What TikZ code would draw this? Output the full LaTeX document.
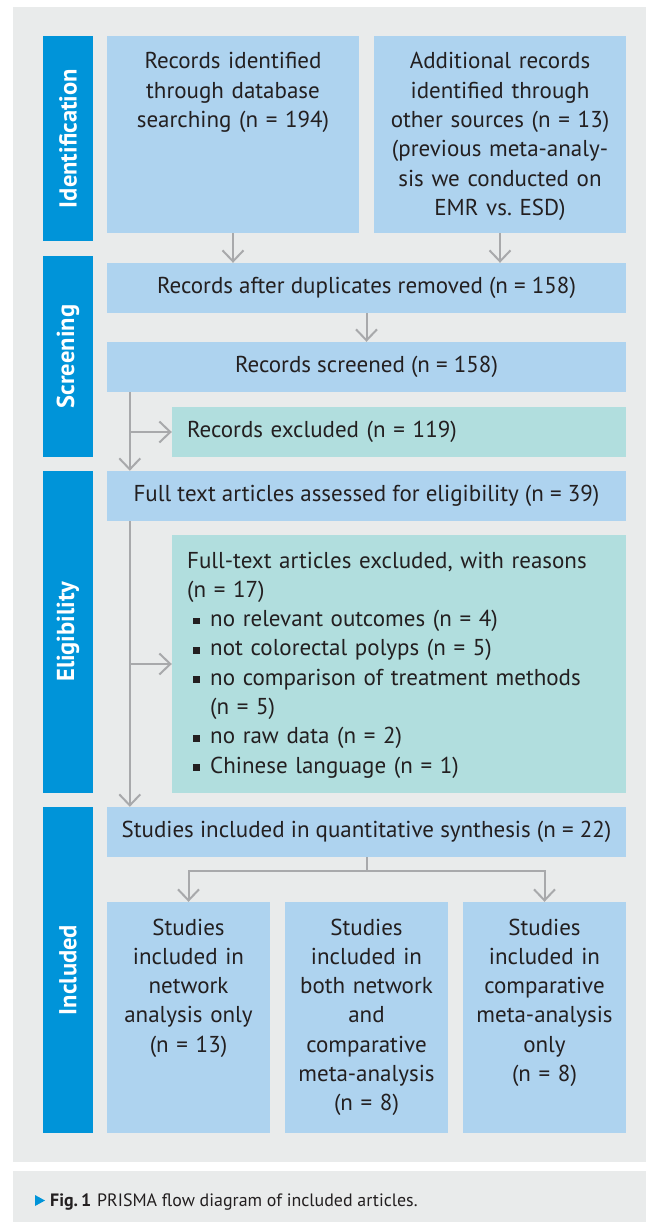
\documentclass[tikz,border=0pt]{standalone}
\usepackage{fontspec}
\setmainfont{PT Sans}
\usepackage{tikz}
\usetikzlibrary{arrows.meta,positioning}
\definecolor{pnlgray}{RGB}{233,235,235}
\definecolor{barblue}{RGB}{0,148,217}
\definecolor{boxblue}{RGB}{174,211,239}
\definecolor{boxteal}{RGB}{177,222,222}
\definecolor{linegray}{RGB}{168,169,171}
\definecolor{txtdark}{RGB}{35,31,32}
\tikzstyle{stagebar} = [fill=barblue, text=white, rotate=90, minimum height=50pt, inner sep=0pt, font=\bfseries\fontsize{24.5}{25}\selectfont]
\tikzstyle{bluebox} = [fill=boxblue, inner sep=0pt, text=txtdark, font=\fontsize{23}{29.3}\selectfont]
\tikzstyle{tealbox} = [fill=boxteal, inner sep=0pt, text=txtdark, font=\fontsize{23}{29.3}\selectfont]
\tikzstyle{txt} = [inner sep=0pt, text=txtdark, font=\fontsize{23}{29.3}\selectfont]
\tikzstyle{line} = [line width=2pt, color=linegray]
\tikzstyle{arrow} = [line width=2pt, color=linegray, -{Straight Barb[length=11pt,width=21pt]}]
\newcommand{\sqbul}{\hspace*{6pt}\makebox[17pt][l]{\raisebox{2.3pt}{\rule{6.5pt}{6.5pt}}}}

\begin{document}
\begin{tikzpicture}[x=1pt, y=-1pt]
\useasboundingbox (0,0) rectangle (651,1222);
% Background panels
\fill[pnlgray] (13,7) rectangle (646,1162);
\fill[pnlgray] (13,1171) rectangle (646,1222);

% Stage bars
\node[stagebar, minimum width=205pt] (idbar) at (68,138.5) {Identification};
\node[stagebar, minimum width=201pt] (scrbar) at (68,356.5) {Screening};
\node[stagebar, minimum width=322pt] (eligbar) at (68,632) {Eligibility};
\node[stagebar, minimum width=326pt] (inclbar) at (68,970) {Included};

% Identification
\node[bluebox, minimum width=252pt, minimum height=197pt] (dbsearch) at (233,134.5) {};
\node[txt, anchor=base, text width=245pt, align=center] (dbsearch-t) at (233,69) {Records identified\\through database\\searching (n = 194)};
\node[bluebox, minimum width=252pt, minimum height=197pt] (othersrc) at (500,134.5) {};
\node[txt, anchor=base, text width=245pt, align=center] (othersrc-t) at (500,69) {Additional records\\identified through\\other sources (n = 13)\\(previous meta-analy-\\sis we conducted on\\EMR vs.\ ESD)};

% Screening
\node[bluebox, minimum width=519pt, minimum height=50pt] (dedup) at (366.5,288) {Records after duplicates removed (n = 158)};
\node[bluebox, minimum width=519pt, minimum height=50pt] (screened) at (366.5,367) {Records screened (n = 158)};
\node[tealbox, minimum width=454pt, minimum height=50pt, text width=424pt, align=left] (recexcl) at (399,432) {Records excluded (n = 119)};

% Eligibility
\node[bluebox, minimum width=519pt, minimum height=50pt] (fulltext) at (366.5,496) {Full text articles assessed for eligibility (n = 39)};
\node[tealbox, minimum width=454pt, minimum height=258pt] (ftexcl) at (399,664) {};
\node[txt, anchor=base west, text width=435pt, align=left] (ftexcl-t) at (187,568) {Full-text articles excluded, with reasons\\(n = 17)\\
\sqbul no relevant outcomes (n = 4)\\
\sqbul not colorectal polyps (n = 5)\\
\sqbul no comparison of treatment methods\\
\hspace*{23pt}(n = 5)\\
\sqbul no raw data (n = 2)\\
\sqbul Chinese language (n = 1)};

% Included
\node[bluebox, minimum width=519pt, minimum height=50pt] (synth) at (366.5,832) {Studies included in quantitative synthesis (n = 22)};
\node[bluebox, minimum width=163pt, minimum height=231pt] (netonly) at (188.5,1017.5) {};
\node[txt, anchor=base, text width=160pt, align=center] (netonly-t) at (188.5,935) {Studies\\included in\\network\\analysis only\\(n = 13)};
\node[bluebox, minimum width=163pt, minimum height=231pt] (bothna) at (366.5,1017.5) {};
\node[txt, anchor=base, text width=160pt, align=center] (bothna-t) at (366.5,935) {Studies\\included in\\both network\\and\\comparative\\meta-analysis\\(n = 8)};
\node[bluebox, minimum width=163pt, minimum height=231pt] (metaonly) at (544.5,1017.5) {};
\node[txt, anchor=base, text width=160pt, align=center] (metaonly-t) at (544.5,935) {Studies\\included in\\comparative\\meta-analysis\\only\\(n = 8)};

% Connectors
\draw[arrow] (dbsearch.south) -- (dbsearch.south |- dedup.north);
\draw[arrow] (othersrc.south) -- (othersrc.south |- dedup.north);
\draw[arrow] (dedup.south) -- (screened.north);
\coordinate (trunka) at ([xshift=23pt]screened.south west);
\draw[arrow] (trunka) -- (trunka |- fulltext.north);
\draw[arrow] (trunka |- recexcl.west) -- (recexcl.west);
\coordinate (trunkb) at ([xshift=23pt]fulltext.south west);
\draw[arrow] (trunkb) -- (trunkb |- synth.north);
\draw[arrow] (trunkb |- ftexcl.west) -- (ftexcl.west);
\draw[line] (synth.south) -- ++(0,14) coordinate (split);
\draw[arrow] (split) -| (netonly.north);
\draw[arrow] (split) -| (metaonly.north);

% Caption
\fill[barblue] (35,1195) -- (45,1200.5) -- (35,1206) -- cycle;
\node[txt, anchor=base west, font=\fontsize{17.9}{21}\selectfont] (caption) at (50,1206) {\makebox[47pt][l]{\bfseries Fig.\,1}PRISMA flow diagram of included articles.};
\end{tikzpicture}
\end{document}
